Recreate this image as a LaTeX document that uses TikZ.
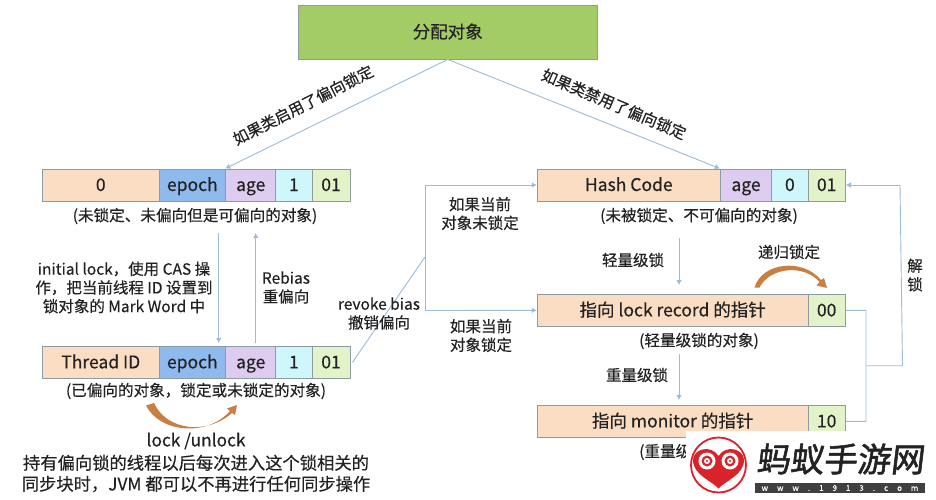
\documentclass[tikz,border=0pt]{standalone}
\usepackage{fontspec}
\setmainfont{Noto Sans CJK SC}[FakeBold=0.35]
\newfontfamily\wmfont{Noto Sans CJK SC}[FakeBold=1.6,FakeSlant=0.12]
\usetikzlibrary{arrows.meta,calc}
\definecolor{peach}{HTML}{FBDDC4}
\definecolor{epochc}{HTML}{8FBAEE}
\definecolor{agec}{HTML}{DDCCF0}
\definecolor{onec}{HTML}{CFF6FA}
\definecolor{ooc}{HTML}{E3F3C9}
\definecolor{greenc}{HTML}{A3CB66}
\definecolor{edgec}{HTML}{8C9CA0}
\definecolor{linec}{HTML}{9DBAD6}
\definecolor{ink}{HTML}{222222}
\definecolor{orangec}{HTML}{C97F42}
\definecolor{logored}{HTML}{D8232A}
\newcommand{\cell}[7]{%
  \pgfmathsetmacro{\cw}{#3-#2}\pgfmathsetmacro{\ch}{#5-#4}%
  \node[cellbox,fill=#6,minimum width=\cw pt,minimum height=\ch pt] (#1) at ({(#2+#3)/2},{(#4+#5)/2}) {#7};}
\tikzset{
  cellbox/.style={draw=edgec,line width=0.9pt,inner sep=0pt,font=\fontsize{17.5}{17.5}\selectfont,text=ink,text height=14pt,text depth=2pt},
  lbl/.style={font=\fontsize{15.5}{18.7}\selectfont,text=ink,align=center,inner sep=0pt},
  captxt/.style={font=\fontsize{15.6}{18}\selectfont,text=ink,align=center,inner sep=0pt},
  conn/.style={draw=linec,line width=0.9pt},
  arr/.style={conn,-{Latex[length=5pt,width=5.5pt]}},
  bigtxt/.style={font=\fontsize{17.3}{21}\selectfont,text=ink,align=center,inner sep=0pt},
}
\begin{document}
\begin{tikzpicture}[x=1pt,y=-1pt]
\useasboundingbox (0,0) rectangle (936,500);
% top
\cell{top}{298.5}{597}{5.5}{59}{greenc}{分配对象}
% row 1
\cell{a0}{42.5}{159}{169}{201}{peach}{0}
\cell{a1}{159}{225.7}{169}{201}{epochc}{epoch}
\cell{a2}{225.7}{275.7}{169}{201}{agec}{age}
\cell{a3}{275.7}{312}{169}{201}{onec}{1}
\cell{a4}{312}{350}{169}{201}{ooc}{01}
\node[captxt] (acap) at (195,216) {(未锁定、未偏向但是可偏向的对象)};
% row 2
\cell{b0}{42.5}{159}{346.7}{378}{peach}{Thread ID}
\cell{b1}{159}{225.7}{346.7}{378}{epochc}{epoch}
\cell{b2}{225.7}{275.7}{346.7}{378}{agec}{age}
\cell{b3}{275.7}{312}{346.7}{378}{onec}{1}
\cell{b4}{312}{350}{346.7}{378}{ooc}{01}
\node[captxt] (bcap) at (196,391) {(已偏向的对象，锁定或未锁定的对象)};
% right rows
\cell{c0}{537.3}{720.3}{169}{201}{peach}{Hash Code}
\cell{c1}{720.3}{771.7}{169}{201}{agec}{age}
\cell{c2}{771.7}{808}{169}{201}{onec}{0}
\cell{c3}{808}{845.3}{169}{201}{ooc}{01}
\node[captxt] (ccap) at (699,216) {(未被锁定、不可偏向的对象)};
\cell{d0}{537.3}{808}{294.7}{326}{peach}{指向 lock record 的指针}
\cell{d1}{808}{845.3}{294.7}{326}{ooc}{00}
\node[captxt] (dcap) at (699,341) {(轻量级锁的对象)};
\cell{e0}{537.3}{808}{405.7}{437}{peach}{指向 monitor 的指针}
\cell{e1}{808}{845.3}{405.7}{437}{ooc}{10}
\node[captxt,anchor=west] (ecap) at (639,452) {(重量级};
% coordinates for free ends
\coordinate (ad1) at (218.7,233);
\coordinate (ad2) at (218.7,343);
\coordinate (au1) at (255.7,343);
\coordinate (au2) at (255.7,233);
\coordinate (j1) at (425,257);
\coordinate (j2) at (425,185);
\coordinate (j3) at (425,310.5);
\coordinate (cd1) at (679,238);
\coordinate (cd2) at (679,285);
\coordinate (dd1) at (679,354);
\coordinate (dd2) at (679,400);
\coordinate (r1) at (866,310.3);
\coordinate (r2) at (866,421.3);
\coordinate (r3) at (866,365.7);
\coordinate (r4) at (902.5,365.7);
\coordinate (r5) at (900,185);
% connectors
\draw[arr] (top.south) -- (a2.north west);
\draw[arr] (top.south) -- (c1.north west);
\draw[arr] (ad1) -- (ad2);
\draw[arr] (au1) -- (au2);
\draw[conn] (b4.east) ++(2,0) -- (j1);
\draw[conn] (j3) -- (j2);
\draw[arr] (j2) -- (c0.west);
\draw[arr] (j3) -- (d0.west);
\draw[arr] (cd1) -- (cd2);
\draw[arr] (dd1) -- (dd2);
\draw[conn] (d1.east) -- (r1) -- (r2) -- (e1.east);
\draw[conn] (r3) -- (r4) -- (r5);
\draw[arr] (r5) -- (c3.east);
% labels
\node[lbl,rotate=27] (l1) at (303,105) {如果类启用了偏向锁定};
\node[lbl,rotate=-23] (l2) at (614,104) {如果类禁用了偏向锁定};
\node[lbl] (t1) at (124,287.5) {initial lock，使用 CAS 操\\作，把当前线程 ID 设置到\\锁对象的 Mark Word 中};
\node[lbl] (t2) at (286,287.5) {Rebias\\重偏向};
\node[lbl] (t3) at (379,313.5) {revoke bias\\撤销偏向};
\node[lbl] (t4) at (480,213.5) {如果当前\\对象未锁定};
\node[lbl] (t5) at (481,335.5) {如果当前\\对象锁定};
\node[lbl] (t6) at (633,260) {轻量级锁};
\node[lbl] (t7) at (637,375) {重量级锁};
\node[lbl] (t8) at (789,252) {递归锁定};
\node[lbl] (t9) at (915,275) {解\\锁};
\node[bigtxt] (t10) at (196,441) {lock /unlock};
\node[bigtxt] (t11) at (196,473.5) {持有偏向锁的线程以后每次进入这个锁相关的\\同步块时，JVM 都可以不再进行任何同步操作};
% orange arcs
\fill[orangec] (146,405.5) .. controls (160,433) and (207,437) .. (230,411)
  -- (227,408.5) -- (237,405) -- (235,415) -- (232,413)
  .. controls (207,435) and (167,431) .. (154,403) -- cycle;
\fill[orangec] (754.5,287.5) .. controls (762,262) and (803,258) .. (821,280)
  -- (824,278) -- (827,288) -- (816.5,285.5) -- (819.5,282)
  .. controls (804,264) and (770,267) .. (759.5,287.5) -- cycle;
% watermark
\fill[white] (686,431) rectangle (936,500);
\draw[logored,line width=1.8pt] (718.5,465) circle (27.5);
\fill[logored] (718.5,488.5) .. controls (712,481) and (693,475) .. (693,460)
  .. controls (693,449) and (711,444) .. (718.5,456)
  .. controls (726,444) and (744,449) .. (744,460)
  .. controls (744,475) and (725,481) .. (718.5,488.5) -- cycle;
\fill[white] (707,461) circle (8.5);
\fill[white] (730,461) circle (8.5);
\fill[logored] (707,461) circle (5.5);
\fill[logored] (730,461) circle (5.5);
\fill[white] (707,461) circle (3);
\fill[white] (730,461) circle (3);
\fill[logored] (707,461) circle (1.2);
\fill[logored] (730,461) circle (1.2);
\node[inner sep=0pt,font=\wmfont\fontsize{33.5}{34}\selectfont,text=ink] (wm) at (840,459) {蚂蚁手游网};
\node[fill=black!75,minimum width=170pt,minimum height=10pt,inner sep=0pt,text=white,font=\fontsize{8}{8}\selectfont] (wmb) at (840,488) {w\hspace{9pt}w\hspace{9pt}w\hspace{9pt}.\hspace{9pt}1\hspace{9pt}9\hspace{9pt}1\hspace{9pt}3\hspace{9pt}.\hspace{9pt}c\hspace{9pt}o\hspace{9pt}m};
\end{tikzpicture}
\end{document}
